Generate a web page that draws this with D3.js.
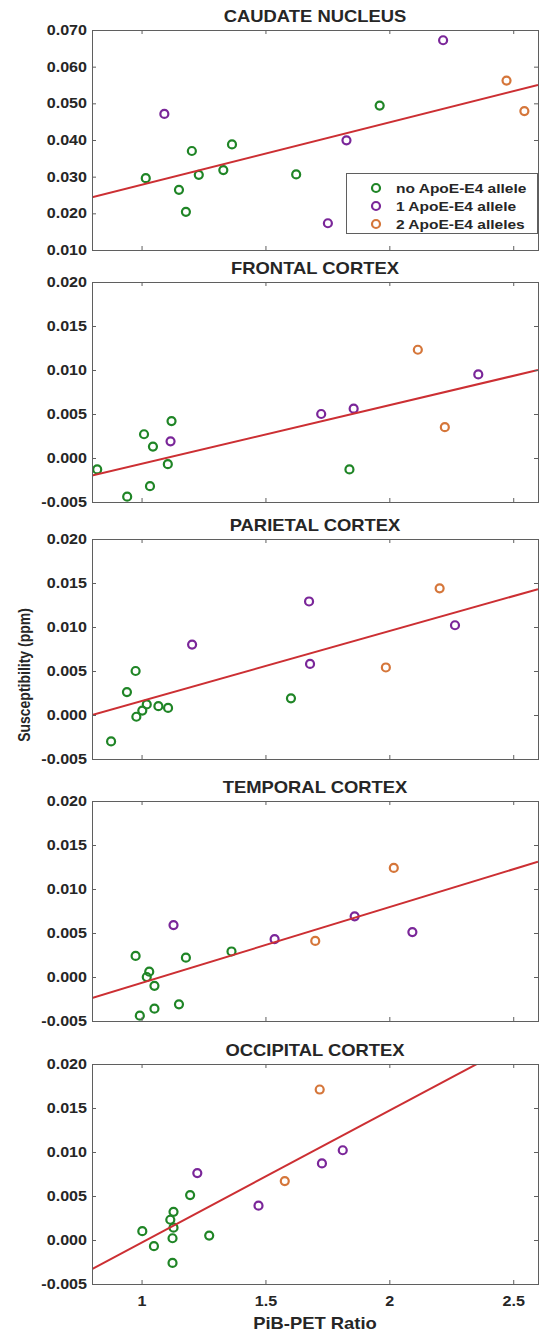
<!DOCTYPE html>
<html>
<head>
<meta charset="utf-8">
<script src="https://cdn.jsdelivr.net/npm/d3@7"></script>
<style>
  body { margin: 0; background: #fff; }
  svg { display: block; }
  text { font-family: "Liberation Sans", Arial, sans-serif; font-weight: bold; fill: #262626; }
</style>
</head>
<body>
<svg id="chart" width="545" height="1334"></svg>
<script>
// --- Data (PiB-PET ratio, susceptibility in ppm) ---
const groupNames = ["no ApoE-E4 allele", "1 ApoE-E4 allele", "2 ApoE-E4 alleles"]
const groupColors = ["#1f8526", "#7a2699", "#d5763a"]

const xDomain = [0.8, 2.6]
const xTicks = [1, 1.5, 2, 2.5]

const caudateTicks = [0.010, 0.020, 0.030, 0.040, 0.050, 0.060, 0.070]
const cortexTicks = [-0.005, 0.000, 0.005, 0.010, 0.015, 0.020]

const caudateNone = [[1.017, 0.0296], [1.151, 0.0264], [1.179, 0.0204], [1.203, 0.0370], [1.231, 0.0305], [1.330, 0.0318], [1.365, 0.0388], [1.624, 0.0306], [1.961, 0.0494]]
const caudateOne = [[1.092, 0.0471], [1.752, 0.0173], [1.827, 0.0399], [2.217, 0.0672]]
const caudateTwo = [[2.473, 0.0562], [2.545, 0.0479]]
const caudateFit = [[0.8, 0.0244], [2.6, 0.0550]]

const frontalNone = [[0.821, -0.0013], [0.942, -0.0044], [1.010, 0.0027], [1.046, 0.0013], [1.034, -0.0032], [1.106, -0.0007], [1.121, 0.0042], [1.839, -0.0013]]
const frontalOne = [[1.117, 0.0019], [1.725, 0.0050], [1.856, 0.0056], [2.359, 0.0095]]
const frontalTwo = [[2.115, 0.0123], [2.224, 0.0035]]
const frontalFit = [[0.8, -0.0020], [2.6, 0.0100]]

const parietalNone = [[0.877, -0.0030], [0.941, 0.0026], [0.976, 0.0050], [0.979, -0.0002], [1.003, 0.0005], [1.021, 0.0012], [1.068, 0.0010], [1.107, 0.0008], [1.603, 0.0019]]
const parietalOne = [[1.204, 0.0080], [1.676, 0.0129], [1.680, 0.0058], [2.265, 0.0102]]
const parietalTwo = [[1.986, 0.0054], [2.203, 0.0144]]
const parietalFit = [[0.8, 0.0000], [2.6, 0.0143]]

const temporalNone = [[0.976, 0.0024], [0.993, -0.0044], [1.021, 0.0000], [1.031, 0.0006], [1.052, -0.0010], [1.052, -0.0036], [1.151, -0.0031], [1.179, 0.0022], [1.363, 0.0029]]
const temporalOne = [[1.129, 0.0059], [1.537, 0.0043], [1.860, 0.0069], [2.093, 0.0051]]
const temporalTwo = [[1.701, 0.0041], [2.018, 0.0124]]
const temporalFit = [[0.8, -0.0024], [2.6, 0.0131]]

const occipitalNone = [[1.003, 0.0010], [1.050, -0.0007], [1.116, 0.0023], [1.129, 0.0032], [1.129, 0.0014], [1.125, 0.0002], [1.125, -0.0026], [1.196, 0.0051], [1.273, 0.0005]]
const occipitalOne = [[1.225, 0.0076], [1.472, 0.0039], [1.728, 0.0087], [1.812, 0.0102]]
const occipitalTwo = [[1.578, 0.0067], [1.719, 0.0171]]
const occipitalFit = [[0.8, -0.0033], [2.6, 0.0237]]

const panels = [
  { title: "CAUDATE NUCLEUS", top: 30, yDomain: [0.010, 0.070], yTicks: caudateTicks, groups: [caudateNone, caudateOne, caudateTwo], fit: caudateFit, legend: true },
  { title: "FRONTAL CORTEX", top: 282, yDomain: [-0.005, 0.020], yTicks: cortexTicks, groups: [frontalNone, frontalOne, frontalTwo], fit: frontalFit },
  { title: "PARIETAL CORTEX", top: 539, yDomain: [-0.005, 0.020], yTicks: cortexTicks, groups: [parietalNone, parietalOne, parietalTwo], fit: parietalFit },
  { title: "TEMPORAL CORTEX", top: 801, yDomain: [-0.005, 0.020], yTicks: cortexTicks, groups: [temporalNone, temporalOne, temporalTwo], fit: temporalFit },
  { title: "OCCIPITAL CORTEX", top: 1064, yDomain: [-0.005, 0.020], yTicks: cortexTicks, groups: [occipitalNone, occipitalOne, occipitalTwo], fit: occipitalFit, xLabels: true }
]

// --- Layout ---
const plotLeft = 92
const plotRight = 538
const plotH = 220
const SX = 1.15 // the source image is slightly stretched horizontally
const frameColor = "#5f5f5f"
const markerR = 4

const fmt = d3.formatLocale({ decimal: ".", thousands: ",", grouping: [3], currency: ["", ""], minus: "-" }).format(".3f")

const svg = d3.select("#chart")
const x = d3.scaleLinear().domain(xDomain).range([plotLeft, plotRight])

// widen text glyphs around their anchor point
function stretch(texts) {
  texts.each(function () {
    const t = d3.select(this)
    const tx = +t.attr("x") || 0
    const ty = +t.attr("y") || 0
    t.attr("x", 0).attr("y", 0).attr("transform", `translate(${tx},${ty}) scale(${SX},1)`)
  })
}

function styleAxis(g) {
  g.select(".domain").remove()
  g.selectAll(".tick line").attr("stroke", frameColor)
  g.selectAll(".tick text")
    .style("font-size", "14px")
    .style("font-family", "\"Liberation Sans\", Arial, sans-serif")
    .style("font-weight", "bold")
    .attr("fill", "#262626")
}

panels.forEach((p, i) => {
  const top = p.top
  const bottom = top + plotH
  const y = d3.scaleLinear().domain(p.yDomain).range([bottom, top])
  const g = svg.append("g")

  const clipId = `clip-${i}`
  g.append("clipPath").attr("id", clipId)
    .append("rect")
    .attr("x", plotLeft).attr("y", top)
    .attr("width", plotRight - plotLeft).attr("height", plotH)

  // Title
  g.append("text")
    .attr("x", (plotLeft + plotRight) / 2)
    .attr("y", top - 8)
    .attr("text-anchor", "middle")
    .style("font-size", "16px")
    .text(p.title)
    .call(stretch)

  // Points
  p.groups.forEach((pts, gi) => {
    g.append("g").selectAll("circle")
      .data(pts)
      .enter()
      .append("circle")
      .attr("cx", d => x(d[0]))
      .attr("cy", d => y(d[1]))
      .attr("r", markerR)
      .attr("fill", "none")
      .attr("stroke", groupColors[gi])
      .attr("stroke-width", 2.2)
  })

  // Regression line
  g.append("path")
    .datum(p.fit)
    .attr("clip-path", `url(#${clipId})`)
    .attr("fill", "none")
    .attr("stroke", "#cc2f33")
    .attr("stroke-width", 2)
    .attr("d", d3.line().x(d => x(d[0])).y(d => y(d[1])))

  // Ticks on all four sides
  g.append("g").attr("transform", `translate(${plotLeft},0)`)
    .call(d3.axisLeft(y).tickValues(p.yTicks).tickFormat(fmt).tickSize(-4).tickPadding(5))
    .call(styleAxis)
    .call(a => a.selectAll(".tick text").call(stretch))
  g.append("g").attr("transform", `translate(${plotRight},0)`)
    .call(d3.axisRight(y).tickValues(p.yTicks).tickFormat("").tickSize(-4))
    .call(styleAxis)
  g.append("g").attr("transform", `translate(0,${top})`)
    .call(d3.axisTop(x).tickValues(xTicks).tickFormat("").tickSize(-4))
    .call(styleAxis)
  g.append("g").attr("transform", `translate(0,${bottom})`)
    .call(d3.axisBottom(x).tickValues(xTicks).tickFormat(p.xLabels ? d3.format("") : "").tickSize(-4).tickPadding(12))
    .call(styleAxis)
    .call(a => a.selectAll(".tick text").call(stretch))

  // Frame
  g.append("rect")
    .attr("x", plotLeft).attr("y", top)
    .attr("width", plotRight - plotLeft).attr("height", plotH)
    .attr("fill", "none")
    .attr("stroke", frameColor)
    .attr("stroke-width", 1)
    .attr("shape-rendering", "crispEdges")

  // Legend (caudate panel only)
  if (p.legend) {
    const lg = g.append("g").attr("transform", `translate(346,${bottom - 77})`)
    lg.append("rect")
      .attr("width", 191).attr("height", 60)
      .attr("fill", "#fff")
      .attr("stroke", frameColor)
      .attr("shape-rendering", "crispEdges")
    groupNames.forEach((name, gi) => {
      const ry = 15 + gi * 18
      lg.append("circle")
        .attr("cx", 30).attr("cy", ry).attr("r", markerR)
        .attr("fill", "none")
        .attr("stroke", groupColors[gi])
        .attr("stroke-width", 2.2)
      lg.append("text")
        .attr("x", 50).attr("y", ry)
        .attr("dy", "0.35em")
        .style("font-size", "13.5px")
        .text(name)
        .call(stretch)
    })
  }
})

// Axis titles
svg.append("text")
  .attr("x", (plotLeft + plotRight) / 2)
  .attr("y", 1329)
  .attr("text-anchor", "middle")
  .style("font-size", "16px")
  .text("PiB-PET Ratio")
  .call(stretch)

svg.append("text")
  .attr("transform", `translate(30,675) scale(${SX},1) rotate(-90)`)
  .attr("text-anchor", "middle")
  .style("font-size", "14px")
  .text("Susceptibility (ppm)")
</script>
</body>
</html>
